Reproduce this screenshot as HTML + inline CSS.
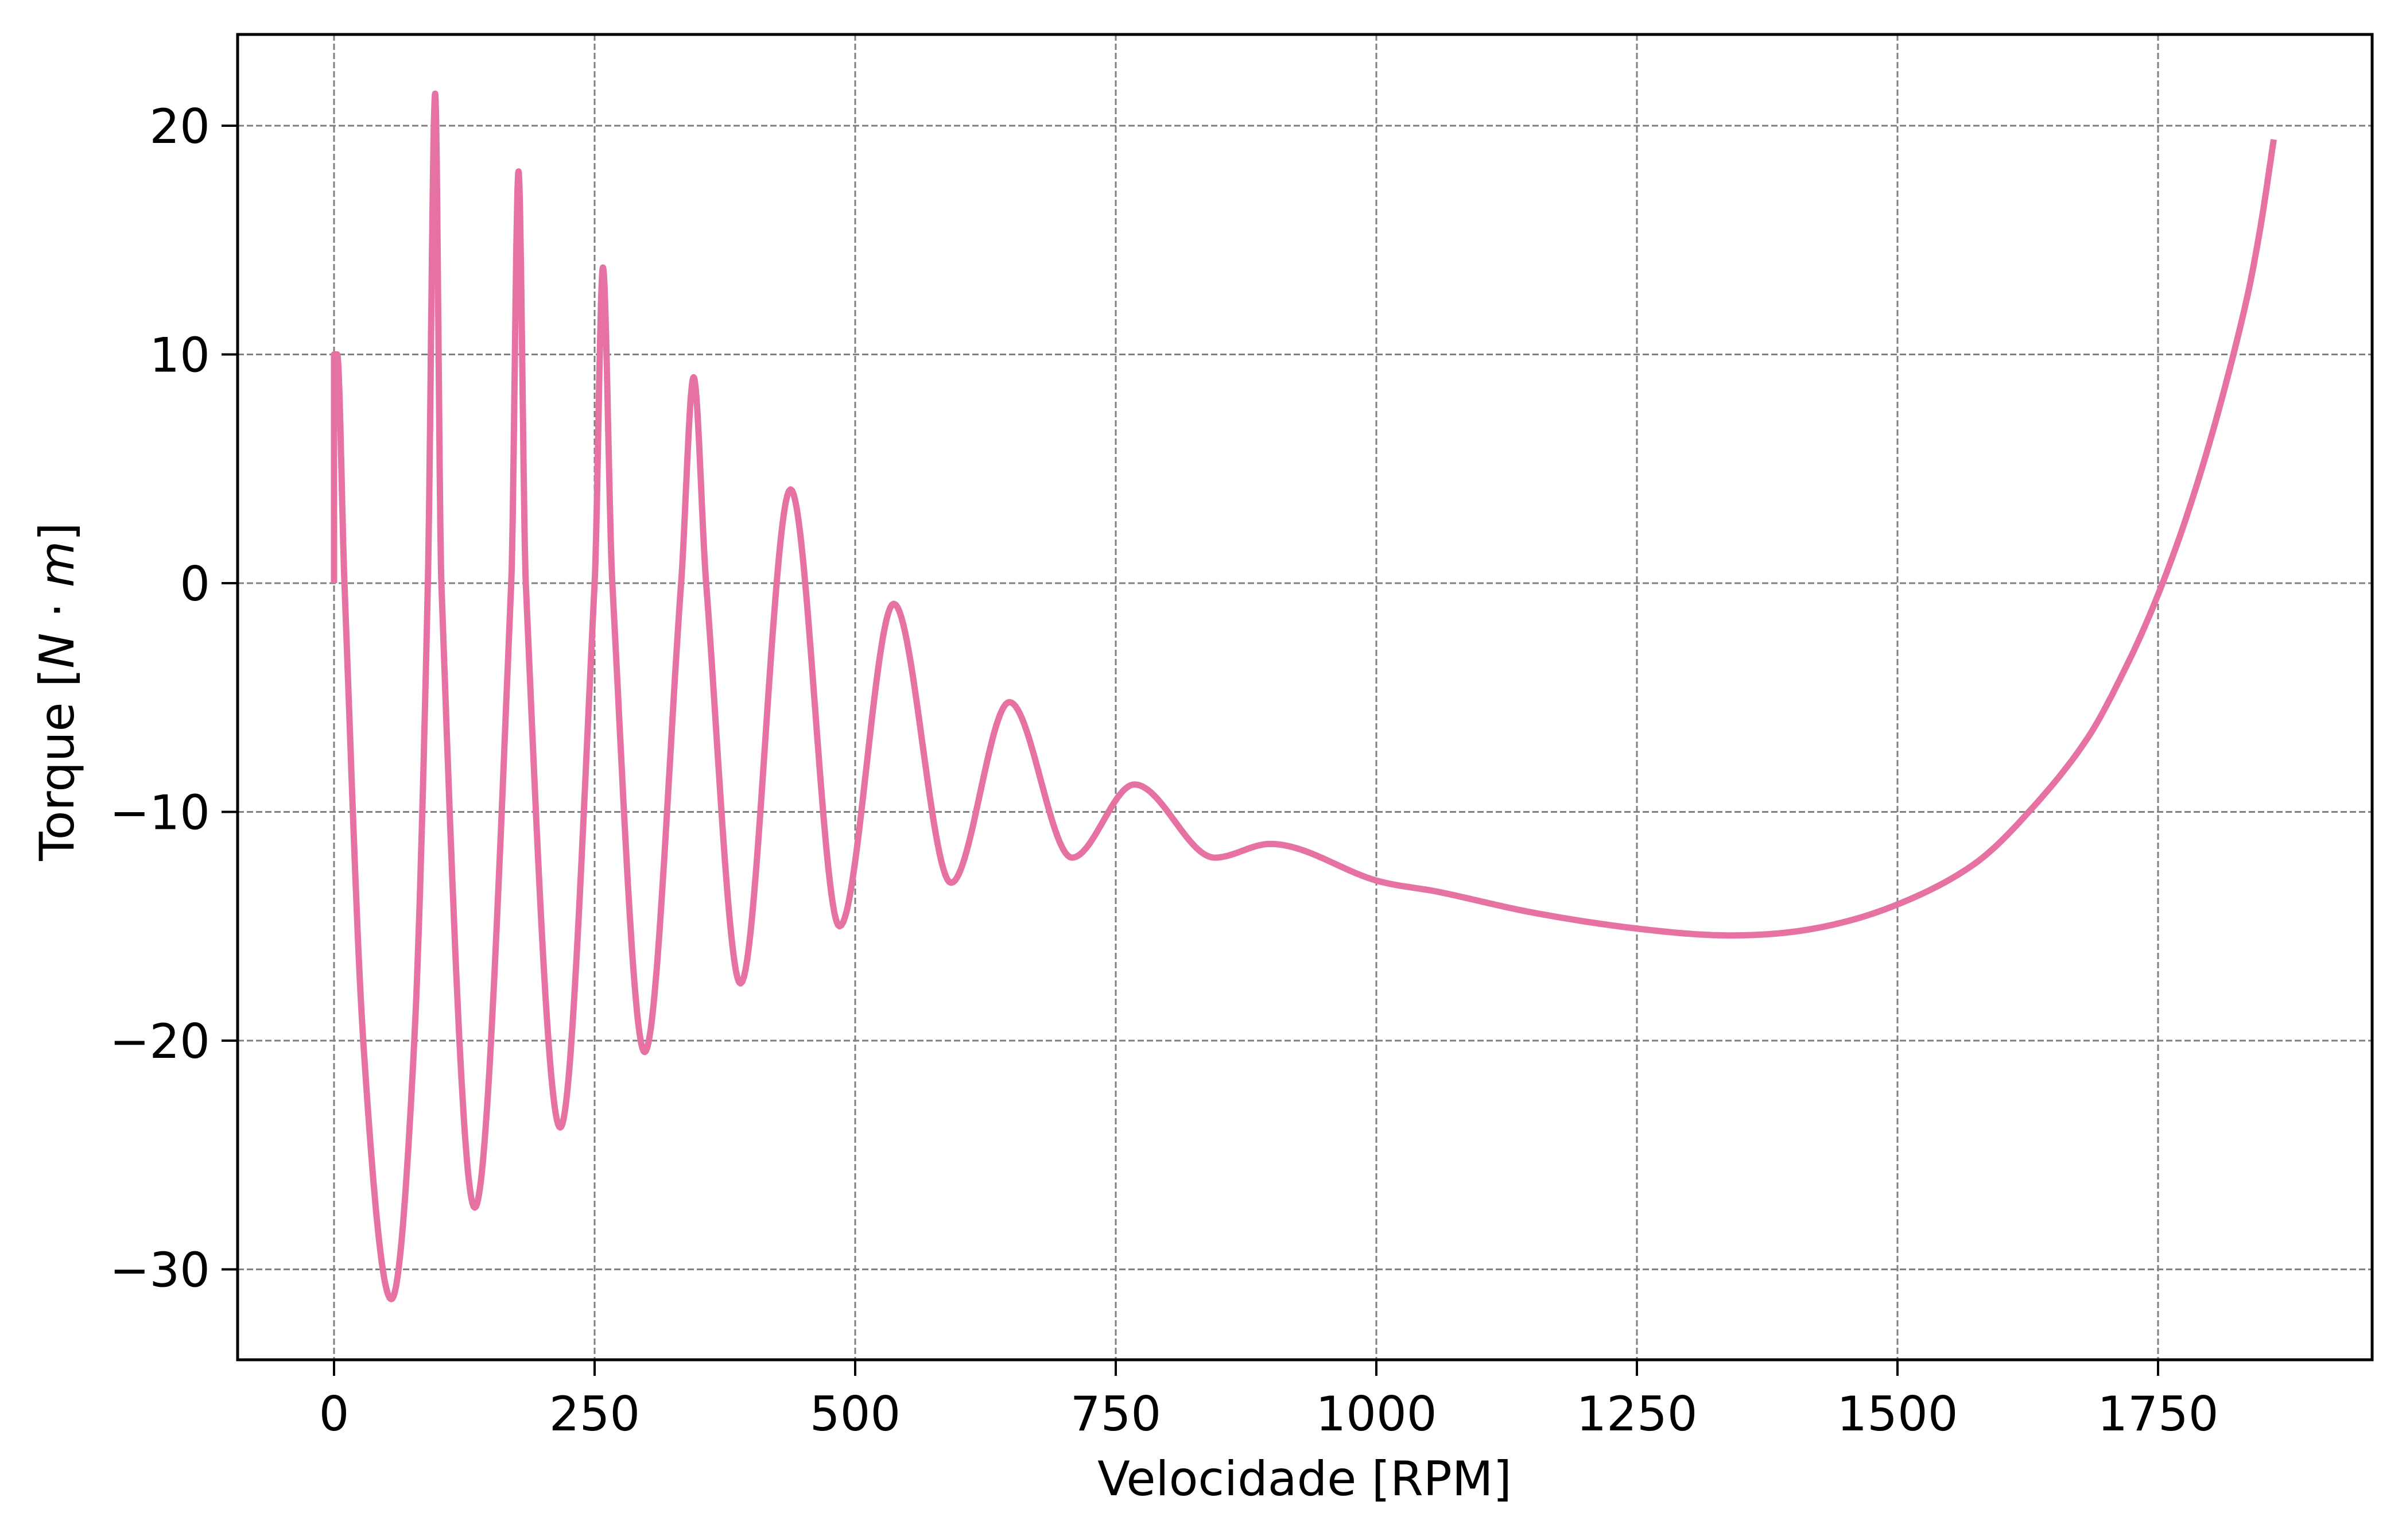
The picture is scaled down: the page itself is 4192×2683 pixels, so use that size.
<!DOCTYPE html>
<html><head><meta charset="utf-8"><style>
html,body{margin:0;padding:0;background:#fff}
svg{display:block}
text{font-family:"DejaVu Sans","Liberation Sans",sans-serif;fill:#000}
</style></head><body>
<svg id="chart" width="4192" height="2683" viewBox="0 0 4192 2683" xmlns="http://www.w3.org/2000/svg">
<rect x="0" y="0" width="4192" height="2683" fill="#fff"/>
<g id="grid"></g>
<g id="series"></g>
<g id="axes"></g>
<text x="2273" y="2605" font-size="83" text-anchor="middle">Velocidade [RPM]</text>
<text transform="translate(128,1205) rotate(-90)" font-size="83" text-anchor="middle">Torque [<tspan font-style="italic">N</tspan> · <tspan font-style="italic">m</tspan>]</text>
</svg>
<script>
const rpm = [0,0,3,10,28,55,77,90,97,103,135,170,177,184,217,250,258,267,298,333,345,357,390,438,485,537,592,648,708,768,845,898,1000,1060,1150,1250,1340,1420,1497,1573,1626,1682,1721,1750,1778,1806,1834,1848,1861];
const torque = [0,10,10,0,-20,-31.3,-20,0,21.4,0,-27.3,0,18,0,-23.8,0,13.8,0,-20.5,0,9,0,-17.5,4.1,-15,-0.9,-13.1,-5.2,-12,-8.8,-12,-11.4,-13,-13.5,-14.4,-15.1,-15.4,-15.1,-14.1,-12.3,-10.0,-6.8,-3.5,-0.5,3.0,7.2,12.2,15.5,19.4];
const xTicks = [0,250,500,750,1000,1250,1500,1750];
const yTicks = [-30,-20,-10,0,10,20];
const xTickLabels = ["0","250","500","750","1000","1250","1500","1750"];
const yTickLabels = ["\u221230","\u221220","\u221210","0","10","20"];

const L=414,R=4133,T=60,B=2369;
const X=v=>582+v*(454/250);
const Y=v=>1016-v*39.85;
const NS="http://www.w3.org/2000/svg";
function mk(tag,attrs,parent){const e=document.createElementNS(NS,tag);for(const k in attrs)e.setAttribute(k,attrs[k]);parent.appendChild(e);return e;}
const grid=document.getElementById('grid'),axes=document.getElementById('axes'),series=document.getElementById('series');
xTicks.forEach((t,i)=>{
  const g=mk('line',{x1:X(t),x2:X(t),y1:T,y2:B,stroke:'#808080','stroke-width':3,'stroke-dasharray':'11,5'},grid);
  
  
  const tk=mk('line',{x1:X(t),x2:X(t),y1:B,y2:B+28,stroke:'#000','stroke-width':4},axes);
  
  
  const tx=mk('text',{x:X(t),y:2492,'font-size':83,'text-anchor':'middle'},axes);
  tx.textContent=xTickLabels[i];
  
  
});
yTicks.forEach((t,i)=>{
  const g=mk('line',{x1:L,x2:R,y1:Y(t),y2:Y(t),stroke:'#808080','stroke-width':3,'stroke-dasharray':'11,5'},grid);
  
  
  const tk=mk('line',{x1:L-28,x2:L,y1:Y(t),y2:Y(t),stroke:'#000','stroke-width':4},axes);
  
  
  const tx=mk('text',{x:L-48,y:Y(t)+30,'font-size':83,'text-anchor':'end'},axes);
  tx.textContent=yTickLabels[i];
  
  
});
const fr=mk('rect',{x:L,y:T,width:R-L,height:B-T,fill:'none',stroke:'#000','stroke-width':5},axes);



function curve(xs,ys){
  const n=xs.length,d=[],m=new Array(n).fill(0);
  for(let i=0;i<n-1;i++){const h=xs[i+1]-xs[i];d.push(h===0?0:(ys[i+1]-ys[i])/h);}
  for(let i=1;i<n-1;i++){
    if(d[i-1]*d[i]<=0){m[i]=0;continue;}
    const hx=xs[i+1]-xs[i-1];
    m[i]=hx>0?(ys[i+1]-ys[i-1])/hx:0;
  }
  m[0]=d[0];m[n-1]=d[n-2];
  for(let i=0;i<n-1;i++){if(d[i]===0){continue;}const a=m[i]/d[i],b=m[i+1]/d[i],s=a*a+b*b;if(s>9){const t=3/Math.sqrt(s);m[i]=t*a*d[i];m[i+1]=t*b*d[i];}}
  let p='M'+X(xs[0]).toFixed(1)+','+Y(ys[0]).toFixed(1);
  for(let i=0;i<n-1;i++){
    const h=xs[i+1]-xs[i];
    if(h===0){p+='L'+X(xs[i+1]).toFixed(1)+','+Y(ys[i+1]).toFixed(1);continue;}
    const N=30;
    for(let k=1;k<=N;k++){const t=k/N,t2=t*t,t3=t2*t;
      const y=(2*t3-3*t2+1)*ys[i]+(t3-2*t2+t)*h*m[i]+(-2*t3+3*t2)*ys[i+1]+(t3-t2)*h*m[i+1];
      p+='L'+X(xs[i]+t*h).toFixed(1)+','+Y(y).toFixed(1);}
  }
  return p;
}
const ln=mk('path',{d:curve(rpm,torque),fill:'none',stroke:'#e572a3','stroke-width':11,'stroke-linejoin':'round','stroke-linecap':'butt'},series);


</script>
</body></html>
